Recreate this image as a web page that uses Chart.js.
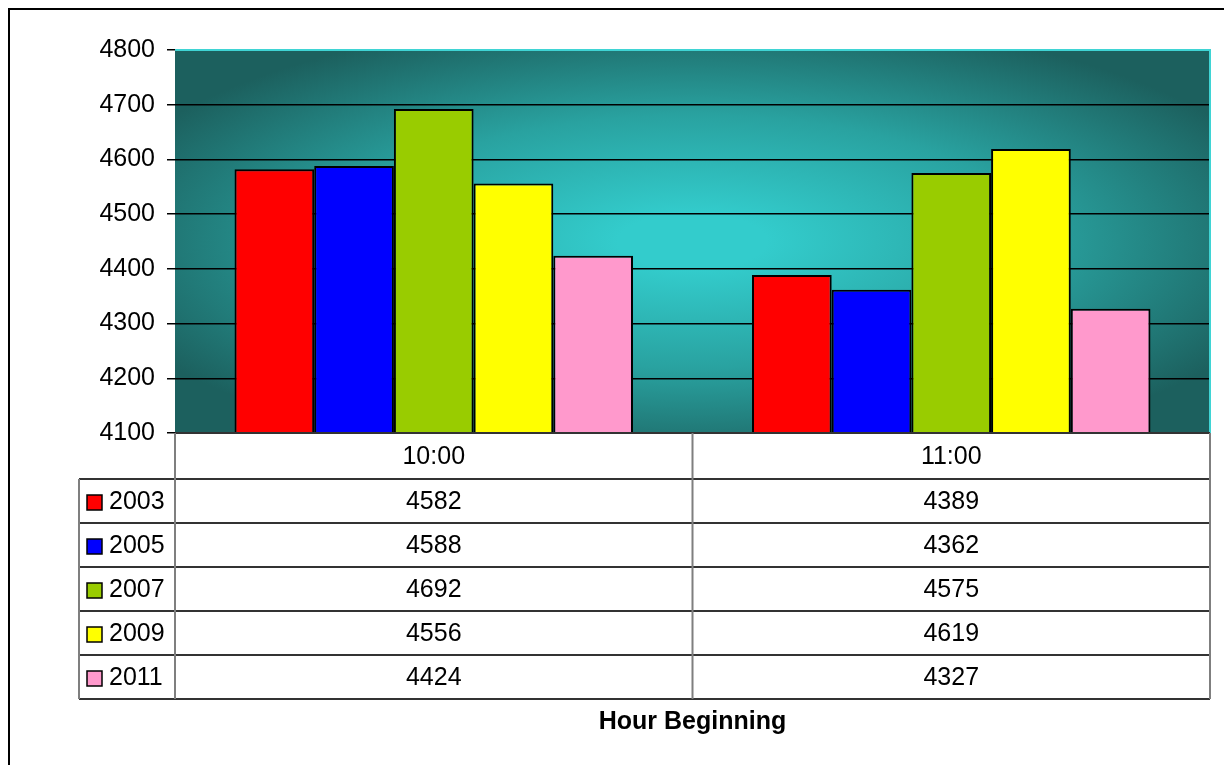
<!DOCTYPE html>
<html>
<head>
<meta charset="utf-8">
<script src="https://cdn.jsdelivr.net/npm/chart.js@4.4.1/dist/chart.umd.min.js"></script>
<style>
  html, body { margin: 0; padding: 0; background: #ffffff; }
  #wrap { width: 1224px; height: 765px; }
</style>
</head>
<body>
<div id="wrap"><canvas id="c" width="1224" height="765"></canvas></div>
<script>
// Hour of the day on the category axis
const hours = ['10:00', '11:00'];

// One series per year
const years = ['2003', '2005', '2007', '2009', '2011'];
const load2003 = [4582, 4389];
const load2005 = [4588, 4362];
const load2007 = [4692, 4575];
const load2009 = [4556, 4619];
const load2011 = [4424, 4327];

// Value axis range and step
const yMin = 4100;
const yMax = 4800;
const yStep = 100;

const axisTitle = 'Hour Beginning';

const seriesValues = [load2003, load2005, load2007, load2009, load2011];
const seriesColors = ['#FF0000', '#0000FF', '#99CC00', '#FFFF00', '#FF99CC'];

const FONT = "'Liberation Sans', Arial, sans-serif";
const FONT_SIZE = 25;

// Oval glow from the centre of the plot out to dark teal corners
const plotBackground = {
  id: 'plotBackground',
  beforeDraw(chart) {
    const { ctx, chartArea: a } = chart;
    const cx = (a.left + a.right) / 2;
    const cy = (a.top + a.bottom) / 2;
    const hw = (a.right - a.left) / 2;
    const hh = (a.bottom - a.top) / 2;
    ctx.save();
    ctx.fillStyle = '#1C605E';
    ctx.fillRect(a.left, a.top, a.right - a.left, a.bottom - a.top);
    ctx.beginPath();
    ctx.rect(a.left, a.top, a.right - a.left, a.bottom - a.top);
    ctx.clip();
    ctx.translate(cx, cy);
    ctx.scale(1, hh / hw);
    const r = hw * 1.2;
    const g = ctx.createRadialGradient(0, 0, 0, 0, 0, r);
    g.addColorStop(0, '#33CCCC');
    g.addColorStop(0.12, '#33CCCC');
    g.addColorStop(0.55, '#29A2A0');
    g.addColorStop(1, '#1C605E');
    ctx.fillStyle = g;
    ctx.fillRect(-r, -r, 2 * r, 2 * r);
    ctx.restore();
  }
};

// Data table under the plot, outer frame and axis title
const dataTable = {
  id: 'dataTable',
  afterDraw(chart) {
    const { ctx, chartArea: a } = chart;
    const xs = chart.scales.x;
    const headTop = a.bottom;
    const headBottom = 479;
    const rowH = 44;
    const legendLeft = 79;
    const tableBottom = headBottom + rowH * years.length;

    ctx.save();

    // light edge on top and right of the plot
    ctx.strokeStyle = '#3FD4D4';
    ctx.lineWidth = 2;
    ctx.beginPath();
    ctx.moveTo(a.left, a.top);
    ctx.lineTo(a.right, a.top);
    ctx.lineTo(a.right, a.bottom);
    ctx.stroke();

    // horizontal rules
    ctx.strokeStyle = '#333333';
    ctx.lineWidth = 2;
    ctx.beginPath();
    ctx.moveTo(a.left, headTop);
    ctx.lineTo(a.right, headTop);
    for (let i = 0; i <= years.length; i++) {
      const y = headBottom + i * rowH;
      ctx.moveTo(legendLeft, y);
      ctx.lineTo(a.right, y);
    }
    ctx.stroke();

    // vertical rules
    const mid = (xs.getPixelForValue(0) + xs.getPixelForValue(1)) / 2;
    ctx.strokeStyle = '#7F7F7F';
    ctx.lineWidth = 2;
    ctx.beginPath();
    ctx.moveTo(a.left, headTop); ctx.lineTo(a.left, tableBottom);
    ctx.moveTo(mid, headTop); ctx.lineTo(mid, tableBottom);
    ctx.moveTo(a.right, headTop); ctx.lineTo(a.right, tableBottom);
    ctx.moveTo(legendLeft, headBottom); ctx.lineTo(legendLeft, tableBottom);
    ctx.stroke();

    // header labels and values
    ctx.fillStyle = '#000000';
    ctx.font = FONT_SIZE + 'px ' + FONT;
    ctx.textAlign = 'center';
    ctx.textBaseline = 'middle';
    hours.forEach((h, j) => {
      const x = xs.getPixelForValue(j);
      ctx.fillText(h, x, (headTop + headBottom) / 2 + 1);
      seriesValues.forEach((vals, i) => {
        ctx.fillText(String(vals[j]), x, headBottom + i * rowH + rowH / 2 + 1);
      });
    });

    // legend keys
    ctx.textAlign = 'left';
    years.forEach((yr, i) => {
      const yc = headBottom + i * rowH + rowH / 2;
      ctx.fillStyle = seriesColors[i];
      ctx.fillRect(87, yc - 6, 15, 15);
      ctx.strokeStyle = '#000000';
      ctx.lineWidth = 1.5;
      ctx.strokeRect(87, yc - 6, 15, 15);
      ctx.fillStyle = '#000000';
      ctx.fillText(yr, 109, yc + 1);
    });

    // axis title
    ctx.font = 'bold ' + FONT_SIZE + 'px ' + FONT;
    ctx.textAlign = 'center';
    ctx.fillText(axisTitle, mid, 722);

    // outer frame
    ctx.strokeStyle = '#000000';
    ctx.lineWidth = 2;
    ctx.strokeRect(9, 9, 1400, 900);

    ctx.restore();
  }
};

new Chart(document.getElementById('c'), {
  type: 'bar',
  data: {
    labels: hours,
    datasets: years.map((yr, i) => ({
      label: yr,
      data: seriesValues[i],
      backgroundColor: seriesColors[i],
      borderColor: '#000000',
      borderWidth: 2,
      borderSkipped: false,
      barPercentage: 1,
      categoryPercentage: 0.77
    }))
  },
  options: {
    responsive: false,
    animation: false,
    layout: { padding: { left: 0, top: 50, right: 14, bottom: 332 } },
    plugins: {
      legend: { display: false },
      tooltip: { enabled: false },
      title: { display: false }
    },
    scales: {
      x: {
        offset: true,
        grid: { display: false },
        border: { display: false },
        ticks: { display: false },
        afterFit(scale) { scale.height = 0; }
      },
      y: {
        min: yMin,
        max: yMax,
        ticks: {
          stepSize: yStep,
          padding: 12,
          color: '#000000',
          font: { family: FONT, size: FONT_SIZE },
          callback: (v) => String(v)
        },
        grid: {
          color: '#000000',
          lineWidth: 1.5,
          tickLength: 8,
          drawOnChartArea: true
        },
        border: { display: false },
        afterFit(scale) { scale.width = 175; }
      }
    }
  },
  plugins: [plotBackground, dataTable]
});
</script>
</body>
</html>
